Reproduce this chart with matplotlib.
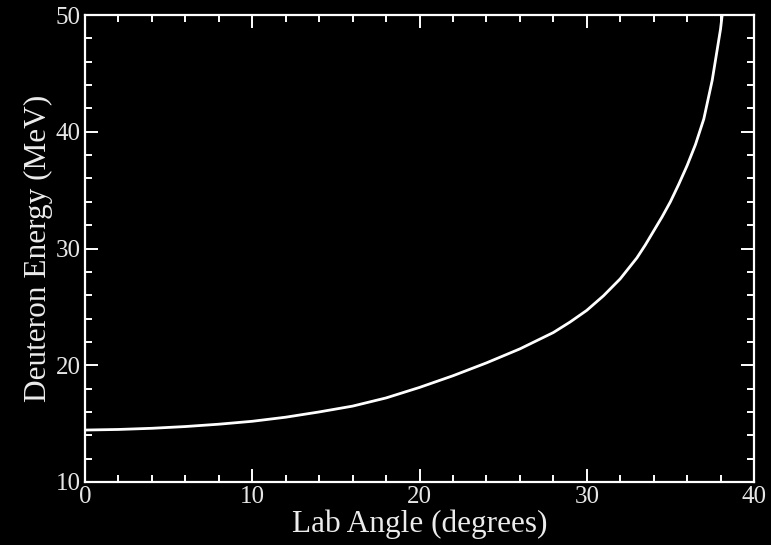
import matplotlib
matplotlib.use('Agg')
import matplotlib.pyplot as plt
from matplotlib.ticker import MultipleLocator

# Deuteron energy vs lab angle
lab_angle = [0, 2, 4, 6, 8, 10, 12, 14, 16, 18, 20, 22, 24, 26, 28, 29,
             30, 31, 32, 33, 33.5, 34, 34.5, 35, 35.5, 36, 36.5, 37,
             37.5, 38, 38.3]
deuteron_energy = [14.45, 14.5, 14.6, 14.75, 14.95, 15.2, 15.55, 16.0, 16.5,
                   17.2, 18.1, 19.1, 20.2, 21.4, 22.8, 23.7, 24.7, 25.95,
                   27.4, 29.2, 30.3, 31.5, 32.7, 34.0, 35.5, 37.1, 38.9,
                   41.1, 44.4, 48.8, 52.5]

x_ticks = [0, 10, 20, 30, 40]
y_ticks = [10, 20, 30, 40, 50]

plt.rcParams['font.family'] = ['Liberation Serif', 'DejaVu Serif']

fig = plt.figure(figsize=(7.71, 5.45), dpi=100, facecolor='black')
ax = fig.add_axes([85 / 771, 1 - 482 / 545, (754 - 85) / 771, (482 - 15) / 545])
ax.set_facecolor('black')

ax.plot(lab_angle, deuteron_energy, color='white', linewidth=2.0)

ax.set_xlim(0, 40)
ax.set_ylim(10, 50)
ax.set_xticks(x_ticks)
ax.set_yticks(y_ticks)
ax.xaxis.set_minor_locator(MultipleLocator(2))
ax.yaxis.set_minor_locator(MultipleLocator(2))

for sp in ax.spines.values():
    sp.set_color('white')
    sp.set_linewidth(1.6)

ax.tick_params(which='both', direction='in', top=True, right=True,
               colors='white', labelsize=18, width=1.4)
ax.tick_params(which='major', length=9.5, pad=3)
ax.tick_params(which='minor', length=5)
for lbl in ax.get_xticklabels() + ax.get_yticklabels():
    lbl.set_color('#e6e6e6')

ax.set_xlabel('Lab Angle (degrees)', color='#ececec', fontsize=22.5, labelpad=1)
ax.set_ylabel('Deuteron Energy (MeV)', color='#ececec', fontsize=22.5, labelpad=2)

plt.savefig('out.png', dpi=100, facecolor='black')
